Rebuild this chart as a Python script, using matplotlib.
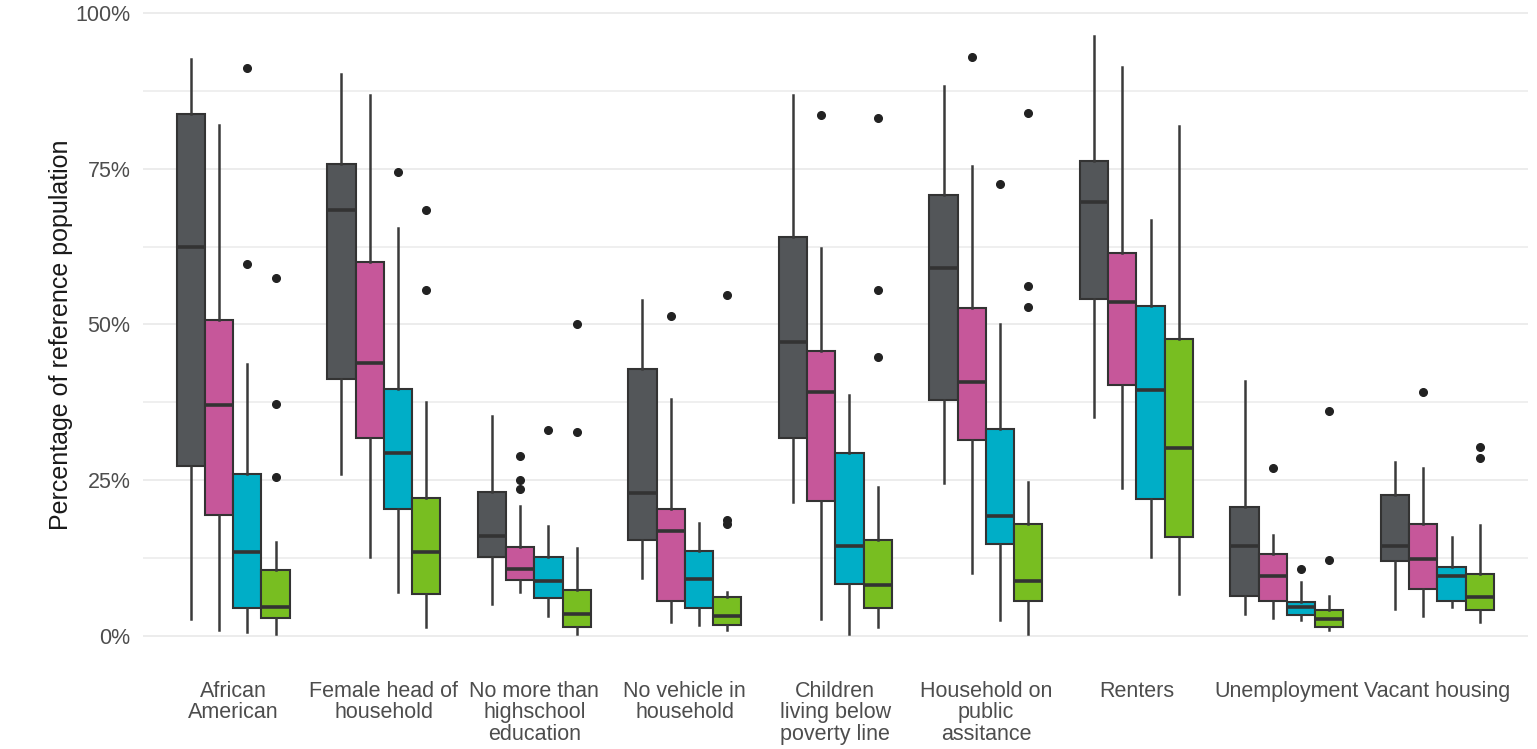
"""
plot.py
-------
Boxplots of neighbourhood indicators, four groups per indicator
(ggplot2 theme_minimal look). Writes out.png.
"""

import matplotlib
matplotlib.use("Agg")
import matplotlib.pyplot as plt

plt.rcParams["font.family"] = ["Liberation Sans", "DejaVu Sans"]

# ── data (percent of reference population) ───────────────────────────────────
categories = [
    "African\nAmerican", "Female head of\nhousehold",
    "No more than\nhighschool\neducation", "No vehicle in\nhousehold",
    "Children\nliving below\npoverty line", "Household on\npublic\nassitance",
    "Renters", "Unemployment", "Vacant housing",
]

gray_lo  = [2.8, 26.0, 5.2, 9.3, 21.5, 24.5, 35.1, 3.6, 4.4]
gray_q1  = [27.2, 41.2, 12.7, 15.4, 31.8, 37.8, 54.1, 6.4, 12.0]
gray_med = [62.4, 68.4, 16.1, 23.0, 47.2, 59.0, 69.6, 14.5, 14.5]
gray_q3  = [83.8, 75.8, 23.1, 42.8, 64.0, 70.8, 76.2, 20.7, 22.6]
gray_hi  = [92.6, 90.2, 35.3, 53.9, 86.8, 88.3, 96.3, 40.9, 27.9]
gray_out = [[], [], [], [], [], [], [], [], []]

pink_lo  = [1.0, 12.7, 7.1, 2.2, 2.8, 10.1, 23.8, 2.9, 3.2]
pink_q1  = [19.4, 31.8, 9.0, 5.6, 21.6, 31.4, 40.2, 5.6, 7.6]
pink_med = [37.0, 43.8, 10.8, 16.8, 39.2, 40.7, 53.6, 9.7, 12.3]
pink_q3  = [50.7, 60.1, 14.2, 20.3, 45.8, 52.6, 61.4, 13.2, 18.0]
pink_hi  = [82.0, 86.8, 20.9, 38.0, 62.2, 75.5, 91.4, 16.2, 26.9]
pink_out = [[], [], [28.9, 25.0, 23.6], [51.4], [83.6], [93.0], [], [27.0], [39.2]]

cyan_lo  = [0.7, 7.1, 3.2, 1.8, 0.3, 2.6, 12.7, 2.6, 4.7]
cyan_q1  = [4.5, 20.4, 6.1, 4.5, 8.3, 14.7, 22.0, 3.4, 5.6]
cyan_med = [13.5, 29.4, 8.9, 9.1, 14.5, 19.3, 39.5, 4.7, 9.6]
cyan_q3  = [26.0, 39.7, 12.7, 13.6, 29.4, 33.2, 52.9, 5.5, 11.1]
cyan_hi  = [43.6, 65.5, 17.6, 18.2, 38.6, 50.0, 66.8, 8.6, 15.9]
cyan_out = [[91.1, 59.7], [74.5], [33.1], [], [], [72.5], [], [10.7], []]

green_lo  = [0.3, 1.4, 0.3, 1.0, 1.4, 0.3, 6.8, 1.0, 2.2]
green_q1  = [2.9, 6.8, 1.4, 1.8, 4.5, 5.6, 15.9, 1.4, 4.2]
green_med = [4.7, 13.5, 3.5, 3.2, 8.1, 8.9, 30.1, 2.7, 6.2]
green_q3  = [10.6, 22.2, 7.4, 6.2, 15.4, 18.0, 47.6, 4.1, 10.0]
green_hi  = [15.1, 37.5, 14.1, 7.1, 23.9, 24.7, 81.9, 6.4, 17.8]
green_out = [[57.4, 37.3, 25.5], [68.4, 55.5], [50.1, 32.8], [54.7, 18.6, 17.9],
             [83.1, 55.5, 44.8], [83.9, 56.2, 52.8], [], [36.1, 12.2], [30.3, 28.5]]

y_ticks = [0, 25, 50, 75, 100]
y_tick_labels = ["0%", "25%", "50%", "75%", "100%"]

# ── style ─────────────────────────────────────────────────────────────────────
FILLS = ["#535659", "#C6579A", "#00AEC7", "#78BE21"]
EDGE = "#333333"
GRID = "#EBEBEB"
TEXT = "#4D4D4D"


def make_stats(lo, q1, med, q3, hi, out):
    """bxp wants one dict per box."""
    return [dict(whislo=a, q1=b, med=c, q3=d, whishi=e, fliers=f)
            for a, b, c, d, e, f in zip(lo, q1, med, q3, hi, out)]


groups = [
    make_stats(gray_lo, gray_q1, gray_med, gray_q3, gray_hi, gray_out),
    make_stats(pink_lo, pink_q1, pink_med, pink_q3, pink_hi, pink_out),
    make_stats(cyan_lo, cyan_q1, cyan_med, cyan_q3, cyan_hi, cyan_out),
    make_stats(green_lo, green_q1, green_med, green_q3, green_hi, green_out),
]

# ── plot ──────────────────────────────────────────────────────────────────────
fig = plt.figure(figsize=(15.37, 7.49), dpi=100)
ax = fig.add_axes([0.093, 0.1135, 0.901, 0.8784])

n_groups = len(groups)
dodge = 0.75 / n_groups
x_base = list(range(1, len(categories) + 1))

for g, stats in enumerate(groups):
    offset = (g - (n_groups - 1) / 2) * dodge
    pos = [x + offset for x in x_base]
    ax.bxp(stats, positions=pos, widths=dodge, showcaps=False,
           patch_artist=True, manage_ticks=False,
           boxprops=dict(facecolor=FILLS[g], edgecolor=EDGE, linewidth=1.5),
           whiskerprops=dict(color="#3a3a3a", linewidth=1.8),
           medianprops=dict(color=EDGE, linewidth=2.6, solid_capstyle="butt"),
           flierprops=dict(marker="o", markersize=5.5, markerfacecolor="#222222",
                           markeredgecolor="#222222"))

ax.set_xlim(0.4, len(categories) + 0.6)
ax.set_ylim(-4.5, 101.1)

ax.set_xticks(x_base)
ax.set_xticklabels(categories, linespacing=1.05)
ax.set_yticks(y_ticks)
ax.set_yticklabels(y_tick_labels)
ax.set_yticks([12.5, 37.5, 62.5, 87.5], minor=True)

ax.grid(axis="y", which="major", color=GRID, linewidth=1.3)
ax.grid(axis="y", which="minor", color=GRID, linewidth=1.1)
ax.set_axisbelow(True)
for side in ax.spines.values():
    side.set_visible(False)

ax.tick_params(axis="both", which="both", length=0, colors=TEXT, labelsize=15.5)
ax.tick_params(axis="x", pad=12)
ax.tick_params(axis="y", pad=9)

ax.set_ylabel("Percentage of reference population", fontsize=18, color="#1a1a1a",
              labelpad=2)

fig.savefig("out.png", dpi=100)
